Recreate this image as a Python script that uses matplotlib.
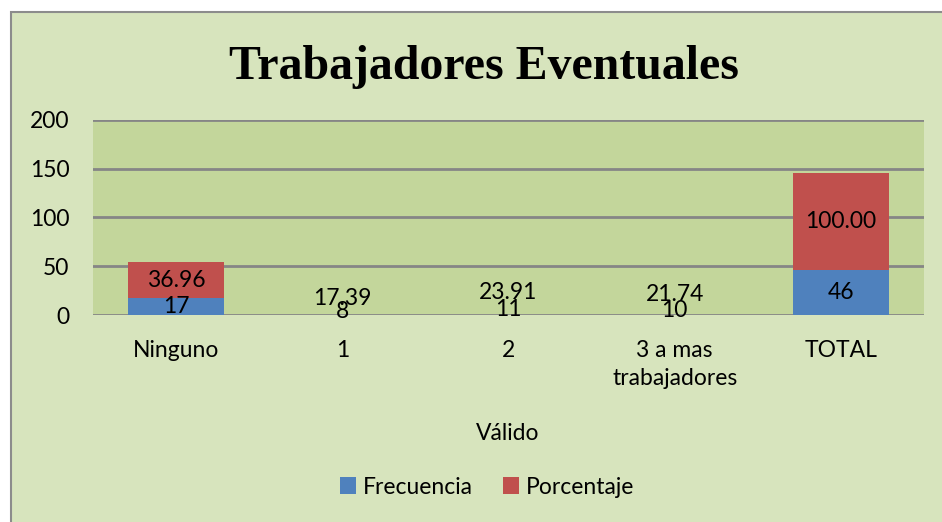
import matplotlib.pyplot as plt
from matplotlib.patches import Rectangle

# data
categories = ['Ninguno', '1', '2', '3 a mas\ntrabajadores', 'TOTAL']
frecuencia = [17, 8, 11, 10, 46]
porcentaje = [36.96, 17.39, 23.91, 21.74, 100.00]
# in the original only the first and last columns have a visible fill
filled = [True, False, False, False, True]

blue = '#4f81bd'
red = '#c0504d'
bg_fig = '#d7e4bd'
bg_ax = '#c3d69b'
grid_c = '#868686'

plt.rcParams['font.family'] = ['Lato', 'DejaVu Sans']
fs = 16.5

W, H = 942, 522
fig = plt.figure(figsize=(W / 100, H / 100), dpi=100, facecolor='white')

# outer chart frame (white strip on top and left like the screenshot)
fig.patches.append(Rectangle((11 / W, -0.05), 1.1, 1.05 - 12 / H, transform=fig.transFigure,
                             facecolor=bg_fig, edgecolor='#8c8c8c', linewidth=1.5, zorder=-5))

ax = fig.add_axes([93 / W, 1 - 315 / H, (924 - 93) / W, (315 - 120) / H])
ax.set_facecolor(bg_ax)

x = list(range(len(categories)))
fc_blue = [blue if f else 'none' for f in filled]
fc_red = [red if f else 'none' for f in filled]

b1 = ax.bar(x, frecuencia, width=0.58, color=fc_blue, label='Frecuencia', zorder=3)
b2 = ax.bar(x, porcentaje, width=0.58, bottom=frecuencia, color=fc_red, label='Porcentaje', zorder=3)

ax.bar_label(b1, labels=[str(v) for v in frecuencia], label_type='center', fontsize=fs, zorder=4)
ax.bar_label(b2, labels=['%.2f' % v for v in porcentaje], label_type='center', fontsize=fs, zorder=4)

ax.set_ylim(0, 200)
ax.set_xlim(-0.5, len(categories) - 0.5)
ax.set_yticks([0, 50, 100, 150, 200])
ax.set_xticks(x)
ax.set_xticklabels(categories, fontsize=fs, linespacing=1.4)
ax.tick_params(axis='y', labelsize=fs, length=0, pad=17)
ax.tick_params(axis='x', length=0, pad=18)
ax.grid(axis='y', color=grid_c, linewidth=2, zorder=1)
ax.set_axisbelow(True)
for s in ax.spines.values():
    s.set_visible(False)

fig.text(484 / W, 1 - 79 / H, 'Trabajadores Eventuales', ha='center', va='baseline',
         fontsize=34.5, fontweight='bold', family='Liberation Serif')
fig.text(508 / W, 1 - 433 / H, 'Válido', ha='center', va='center', fontsize=fs)

# legend uses solid colours even though some bars are unfilled
h1 = Rectangle((0, 0), 1, 1, facecolor=blue)
h2 = Rectangle((0, 0), 1, 1, facecolor=red)
fig.legend([h1, h2], ['Frecuencia', 'Porcentaje'], loc='center', bbox_to_anchor=(487 / W, 1 - 487 / H),
           ncol=2, frameon=False, fontsize=fs, handlelength=0.7, handleheight=0.7,
           handletextpad=0.3, columnspacing=1.3)

fig.savefig('out.png', dpi=100, facecolor=fig.get_facecolor())
